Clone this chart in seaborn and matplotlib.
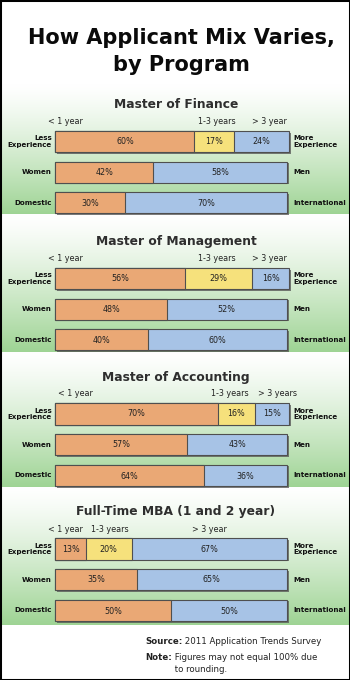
import numpy as np
import pandas as pd
import matplotlib
matplotlib.use("Agg")
import matplotlib.pyplot as plt
import seaborn as sns
from matplotlib import patheffects as pe
from matplotlib.patches import Rectangle

# ---- data -------------------------------------------------------------
programs = ["Master of Finance", "Master of Management",
            "Master of Accounting", "Full-Time MBA (1 and 2 year)"]
under_1_year = [60, 56, 70, 13]
one_to_3_years = [17, 29, 16, 20]
over_3_years = [24, 16, 15, 67]
women = [42, 48, 57, 35]
men = [58, 52, 43, 65]
domestic = [30, 40, 64, 50]
international = [70, 60, 36, 50]
experience_labels = [
    ["< 1 year", "1-3 years", "> 3 year"],
    ["< 1 year", "1-3 years", "> 3 year"],
    ["< 1 year", "1-3 years", "> 3 years"],
    ["< 1 year", "1-3 years", "> 3 year"],
]
left_labels = ["Less\nExperience", "Women", "Domestic"]
right_labels = ["More\nExperience", "Men", "International"]
rows = ["experience", "gender", "origin"]

# ---- layout / style ---------------------------------------------------
W, H = 350, 680
ORANGE, YELLOW, BLUE = "#EAA875", "#F6E17C", "#A7C3E6"
EDGE = "#4f4f4f"
GREEN = np.array([0.62, 0.83, 0.58])
panel_spans = [(84, 214), (214, 352), (352, 487), (487, 625)]
first_row_y = [141.5, 278.5, 414.0, 549.0]
row_step = 30.6
bar_left, bar_width_px = 55.5, 231.5
# where the experience-band captions sit, in percent units along the bar
caption_x = [[4.5, 69.5, 92.4], [4.5, 69.5, 92.4],
             [8.7, 75.1, 95.7], [4.5, 23.6, 66.7]]

sns.set_theme(style="white")
plt.rcParams["font.family"] = ["DejaVu Sans"]

fig = plt.figure(figsize=(W / 100, H / 100), dpi=100)
bg = fig.add_axes([0, 0, 1, 1])
bg.set_xlim(0, W)
bg.set_ylim(H, 0)
bg.set_axis_off()

# panel backgrounds: white fading to green
for top, bot in panel_spans:
    t = np.linspace(0, 1, 256) ** 1.25
    grad = (1 - t)[:, None] * np.ones(3) + t[:, None] * GREEN
    bg.imshow(grad[:, None, :], extent=[0, W, bot, top], aspect="auto",
              interpolation="bilinear", zorder=0)
bg.set_xlim(0, W)
bg.set_ylim(H, 0)

# headline
for yy, line in [(38, "How Applicant Mix Varies,"), (65, "by Program")]:
    bg.text(181, yy, line, ha="center", va="center", fontsize=15,
            fontweight="bold", color="#0a0a0a")

for p in range(len(programs)):
    y0 = first_row_y[p]
    exp_vals = [under_1_year[p], one_to_3_years[p], over_3_years[p]]
    two_way = [[women[p], men[p]], [domestic[p], international[p]]]

    # cumulative layers, widest first so narrower ones sit on top
    total = pd.DataFrame({"row": rows,
                          "end": [sum(exp_vals), sum(two_way[0]), sum(two_way[1])]})
    middle = pd.DataFrame({"row": rows[:1],
                           "end": [exp_vals[0] + exp_vals[1]]})
    first = pd.DataFrame({"row": rows,
                          "end": [exp_vals[0], two_way[0][0], two_way[1][0]]})

    ax_top = y0 - row_step / 2
    ax = fig.add_axes([bar_left / W, 1 - (ax_top + 3 * row_step) / H,
                       bar_width_px / W, 3 * row_step / H])
    ax.patch.set_visible(False)

    sns.barplot(data=total, x="end", y="row", order=rows, orient="h",
                color=BLUE, saturation=1, width=0.69, edgecolor=EDGE,
                linewidth=0.8, ax=ax)
    for bar in ax.patches:
        bar.set_path_effects([pe.SimplePatchShadow(offset=(1.3, -1.3),
                                                   shadow_rgbFace="#555555",
                                                   alpha=0.75),
                              pe.Normal()])
    sns.barplot(data=middle, x="end", y="row", order=rows, orient="h",
                color=YELLOW, saturation=1, width=0.69, edgecolor=EDGE,
                linewidth=0.8, ax=ax)
    sns.barplot(data=first, x="end", y="row", order=rows, orient="h",
                color=ORANGE, saturation=1, width=0.69, edgecolor=EDGE,
                linewidth=0.8, ax=ax)
    for bar in ax.patches:
        bar.set_clip_on(False)
    ax.set_xlim(0, 100)
    ax.set_ylim(2.5, -0.5)
    ax.set_axis_off()

    # value labels centred in each segment
    segs = [exp_vals, two_way[0], two_way[1]]
    for r, vals in enumerate(segs):
        start = 0
        for v in vals:
            ax.text(start + v / 2, r + (0.04 if r == 2 else 0), f"{v}%",
                    ha="center", va="center", fontsize=5.8,
                    color="#222222", clip_on=False)
            start += v

    # captions over the experience bar
    for lab, cx in zip(experience_labels[p], caption_x[p]):
        bg.text(bar_left + cx / 100 * bar_width_px, y0 - 20, lab,
                ha="center", va="center", fontsize=5.8, color="#222222")

    # panel heading
    bg.text(176, y0 - 37, programs[p], ha="center", va="center",
            fontsize=8.8, fontweight="bold", color="#2e2e2e")

    # side labels
    for r in range(3):
        yy = y0 + r * row_step
        bg.text(52, yy, left_labels[r], ha="right", va="center",
                fontsize=5.1, fontweight="bold", color="#111111",
                linespacing=1.15)
        bg.text(293, yy, right_labels[r], ha="left", va="center",
                fontsize=5.1, fontweight="bold", color="#111111",
                linespacing=1.15)

# footnotes
src = bg.text(145, 642, "Source:", ha="left", va="center", fontsize=6.2,
              fontweight="bold", color="#222222")
bg.annotate(" 2011 Application Trends Survey", xy=(1, 0.5), xycoords=src,
            ha="left", va="center", fontsize=6.2, color="#222222")
note = bg.text(145, 657, "Note:", ha="left", va="center", fontsize=6.2,
               fontweight="bold", color="#222222")
fig_note = bg.annotate(" Figures may not equal 100% due", xy=(1, 0.5),
                       xycoords=note, ha="left", va="center", fontsize=6.2,
                       color="#222222")
bg.annotate(" to rounding.", xy=(0, 0.5), xycoords=fig_note,
            xytext=(0, -9.3), textcoords="offset points",
            ha="left", va="center", fontsize=6.2, color="#222222")

# outer frame
fig.patches.append(Rectangle((0, 0), 1, 1, transform=fig.transFigure,
                             fill=False, edgecolor="black", linewidth=2.2))

fig.savefig("out.png", dpi=100)
